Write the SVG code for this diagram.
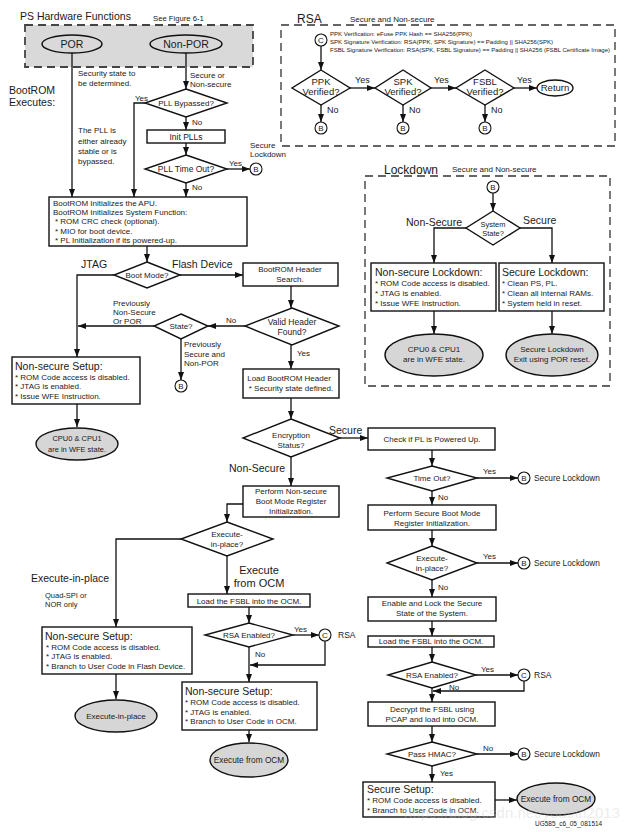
<svg xmlns="http://www.w3.org/2000/svg" width="630" height="832" viewBox="0 0 630 832">
<defs>
<marker id="ah" viewBox="0 0 8 6" refX="8" refY="3" markerWidth="8" markerHeight="6" markerUnits="userSpaceOnUse" orient="auto"><path d="M0,0 L8,3 L0,6 z" fill="#111"/></marker>
<style>
text{font-family:"Liberation Sans",Arial,sans-serif;fill:#1a1a1a;font-size:8px}
.m{text-anchor:middle}
.s10{font-size:10.5px}
.s12{font-size:12px}
.s9{font-size:9.5px}
.box{fill:#fff;stroke:#111;stroke-width:1.4}
.gel{fill:#d6d6d6;stroke:#111;stroke-width:1.4}
.cir{fill:#fff;stroke:#111;stroke-width:1.1}
.dash{fill:none;stroke:#333;stroke-width:1.3;stroke-dasharray:8 5}
.ln{fill:none;stroke:#111;stroke-width:1.3}
.ar{marker-end:url(#ah)}
</style>
</defs>
<rect width="630" height="832" fill="#fff"/>

<!-- Region frames -->
<g id="ps-hw">
<text x="20" y="20" class="s10">PS Hardware Functions</text>
<text x="153" y="21" style="font-size:7.7px">See Figure 6-1</text>
<rect x="25" y="25" width="228" height="42" fill="#d9d9d9" stroke="#444" stroke-width="1.8" stroke-dasharray="8 5"/>
</g>
<g id="rsa-frame">
<text x="297" y="23" class="s12">RSA</text>
<text x="350" y="22">Secure and Non-secure</text>
<rect x="281" y="25" width="334" height="121" class="dash"/>
<text x="330" y="36" style="font-size:5.6px" textLength="142" lengthAdjust="spacingAndGlyphs">PPK Verification: eFuse PPK Hash == SHA256(PPK)</text>
<text x="330" y="44" style="font-size:5.6px" textLength="223" lengthAdjust="spacingAndGlyphs">SPK Signature Verification: RSA(PPK, SPK Signature) == Padding || SHA256(SPK)</text>
<text x="330" y="52" style="font-size:5.6px" textLength="280" lengthAdjust="spacingAndGlyphs">FSBL Signature Verification: RSA(SPK, FSBL Signature) == Padding || SHA256 (FSBL Certificate Image)</text>
</g>
<g id="lockdown-frame">
<text x="384" y="174" class="s12">Lockdown</text>
<text x="452" y="172">Secure and Non-secure</text>
<rect x="365" y="176" width="245" height="210" class="dash"/>
</g>

<!-- Free labels -->
<g id="labels">
<text x="78" y="76">Security state to</text>
<text x="78" y="86">be determined.</text>
<text x="9" y="94" class="s10">BootROM</text>
<text x="9" y="106" class="s10">Executes:</text>
<text x="78" y="133">The PLL is</text>
<text x="78" y="144">either already</text>
<text x="78" y="154">stable or is</text>
<text x="78" y="164">bypassed.</text>
<text x="190" y="78">Secure or</text>
<text x="190" y="87">Non-secure</text>
<text x="135" y="101">Yes</text>
<text x="192" y="125">No</text>
<text x="229" y="166">Yes</text>
<text x="250" y="148">Secure</text>
<text x="250" y="157">Lockdown</text>
<text x="192" y="190">No</text>
<text x="81" y="268" class="s10">JTAG</text>
<text x="172" y="268" class="s10">Flash Device</text>
<text x="226" y="323">No</text>
<text x="113" y="306">Previously</text>
<text x="113" y="315">Non-Secure</text>
<text x="113" y="324">Or POR</text>
<text x="184" y="347">Previously</text>
<text x="184" y="357">Secure and</text>
<text x="184" y="366">Non-POR</text>
<text x="297" y="356">Yes</text>
<text x="329" y="434" class="s10">Secure</text>
<text x="229" y="472" class="s10">Non-Secure</text>
<text x="259" y="574" class="s10 m" style="font-size:11px">Execute</text>
<text x="259" y="587" class="s10 m" style="font-size:11px">from OCM</text>
<text x="31" y="582" class="s10">Execute-in-place</text>
<text x="45" y="598" style="font-size:7.5px">Quad-SPI or</text>
<text x="45" y="607" style="font-size:7.5px">NOR only</text>
<text x="294" y="632">Yes</text>
<text x="338" y="638" style="font-size:8.5px">RSA</text>
<text x="255" y="657">No</text>
<text x="483" y="474">Yes</text>
<text x="534" y="481" style="font-size:8.3px">Secure Lockdown</text>
<text x="438" y="500">No</text>
<text x="483" y="559">Yes</text>
<text x="534" y="566" style="font-size:8.3px">Secure Lockdown</text>
<text x="438" y="590">No</text>
<text x="481" y="672">Yes</text>
<text x="534" y="678" style="font-size:8.5px">RSA</text>
<text x="449" y="690">No</text>
<text x="483" y="751">No</text>
<text x="534" y="757" style="font-size:8.3px">Secure Lockdown</text>
<text x="440" y="776">Yes</text>
<text x="355" y="83" style="font-size:9px">Yes</text>
<text x="434" y="83" style="font-size:9px">Yes</text>
<text x="517" y="83" style="font-size:9px">Yes</text>
<text x="327" y="113" style="font-size:9px">No</text>
<text x="409" y="113" style="font-size:9px">No</text>
<text x="491" y="113" style="font-size:9px">No</text>
<text x="406" y="226" class="s10">Non-Secure</text>
<text x="523" y="224" class="s10">Secure</text>
<text x="535" y="826" style="font-size:6.5px">UG585_c6_05_081514</text>
</g>

<!-- Connectors -->
<g id="connectors">
<path class="ln ar" d="M72,53 V197"/>
<path class="ln ar" d="M186,53 V89"/>
<path class="ln ar" d="M145,103 H134 V197"/>
<path class="ln ar" d="M186,117 V130"/>
<path class="ln ar" d="M186,143 V155"/>
<path class="ln ar" d="M227,169 H250"/>
<path class="ln ar" d="M186,183 V197"/>
<path class="ln ar" d="M147,246 V262"/>
<path class="ln ar" d="M114,275 H77 V357"/>
<path class="ln ar" d="M180,275 H243"/>
<path class="ln ar" d="M291,286 V308"/>
<path class="ln ar" d="M245,326 H208"/>
<path class="ln ar" d="M154,326 H78"/>
<path class="ln ar" d="M181,339 V380"/>
<path class="ln ar" d="M291,345 V369"/>
<path class="ln ar" d="M77,404 V427"/>
<path class="ln ar" d="M291,398 V419"/>
<path class="ln ar" d="M340,438 H368"/>
<path class="ln ar" d="M291,457 V486"/>
<path class="ln ar" d="M243,504 H227 V522"/>
<path class="ln ar" d="M181,539 H116 V627"/>
<path class="ln ar" d="M227,556 V594"/>
<path class="ln ar" d="M249,607 V623"/>
<path class="ln ar" d="M293,635 H319"/>
<path class="ln ar" d="M325,641 V665 H250"/>
<path class="ln ar" d="M249,647 V682"/>
<path class="ln ar" d="M249,730 V742"/>
<path class="ln ar" d="M116,674 V699"/>
<path class="ln ar" d="M432,450 V466"/>
<path class="ln ar" d="M477,478 H518"/>
<path class="ln ar" d="M432,491 V505"/>
<path class="ln ar" d="M432,530 V546"/>
<path class="ln ar" d="M477,563 H518"/>
<path class="ln ar" d="M432,580 V597"/>
<path class="ln ar" d="M432,621 V636"/>
<path class="ln ar" d="M432,647 V662"/>
<path class="ln ar" d="M476,675 H518"/>
<path class="ln ar" d="M524,681 V691 H433"/>
<path class="ln ar" d="M432,688 V702"/>
<path class="ln ar" d="M432,726 V742"/>
<path class="ln ar" d="M477,754 H518"/>
<path class="ln ar" d="M432,766 V782"/>
<path class="ln ar" d="M495,800 H517"/>
<path class="ln ar" d="M321,46 V70"/>
<path class="ln ar" d="M350,88 H375"/>
<path class="ln ar" d="M431,88 H456"/>
<path class="ln ar" d="M514,88 H537"/>
<path class="ln ar" d="M321,105 V122"/>
<path class="ln ar" d="M403,105 V122"/>
<path class="ln ar" d="M485,105 V122"/>
<path class="ln ar" d="M493,193 V211"/>
<path class="ln ar" d="M466,228 H434 V263"/>
<path class="ln ar" d="M520,228 H552 V263"/>
<path class="ln ar" d="M434,311 V334"/>
<path class="ln ar" d="M552,311 V334"/>
</g>

<!-- Nodes: left / middle column -->
<g id="por"><ellipse cx="72" cy="44" rx="30" ry="9" fill="#d9d9d9" stroke="#111" stroke-width="1.5"/><text x="72" y="48" class="m s10">POR</text></g>
<g id="nonpor"><ellipse cx="186" cy="44" rx="36" ry="9" fill="#d9d9d9" stroke="#111" stroke-width="1.5"/><text x="186" y="48" class="m s10">Non-POR</text></g>
<g id="pll-bypassed"><path class="box" d="M186,89 L227,103 L186,117 L145,103 z"/><text x="186" y="106" class="m">PLL Bypassed?</text></g>
<g id="init-plls"><rect class="box" x="147" y="130" width="78" height="13"/><text x="186" y="140" class="m" style="font-size:8.5px">Init PLLs</text></g>
<g id="pll-timeout"><path class="box" d="M186,155 L227,169 L186,183 L145,169 z"/><text x="186" y="172" class="m" style="font-size:8.5px">PLL Time Out?</text></g>
<g id="b1"><circle class="cir" cx="256" cy="169" r="6"/><text x="256" y="172" class="m">B</text></g>
<g id="bootrom-init"><rect class="box" x="49" y="197" width="198" height="49"/>
<text x="53" y="206">BootROM Initializes the APU.</text>
<text x="53" y="215">BootROM Initializes System Function:</text>
<text x="55" y="224">* ROM CRC check (optional).</text>
<text x="55" y="234">* MIO for boot device.</text>
<text x="55" y="243">* PL Initialization if its powered-up.</text></g>
<g id="boot-mode"><path class="box" d="M147,262 L180,275 L147,288 L114,275 z"/><text x="147" y="278" class="m">Boot Mode?</text></g>
<g id="header-search"><rect class="box" x="243" y="263" width="95" height="23"/><text x="290" y="272" class="m">BootROM Header</text><text x="290" y="282" class="m">Search.</text></g>
<g id="valid-header"><path class="box" d="M292,308 L339,326 L292,345 L245,326 z"/><text x="292" y="325" class="m" style="font-size:8.5px">Valid Header</text><text x="292" y="335" class="m" style="font-size:8.5px">Found?</text></g>
<g id="state"><path class="box" d="M181,314 L208,326 L181,339 L154,326 z"/><text x="181" y="329" class="m">State?</text></g>
<g id="b2"><circle class="cir" cx="181" cy="386" r="6"/><text x="181" y="389" class="m">B</text></g>
<g id="load-header"><rect class="box" x="243" y="369" width="96" height="29"/><text x="289" y="381" class="m">Load BootROM Header</text><text x="291" y="391" class="m">* Security state defined.</text></g>
<g id="ns-setup-jtag"><rect class="box" x="12" y="357" width="128" height="47"/>
<text x="15" y="370" class="s10">Non-secure Setup:</text>
<text x="15" y="380">* ROM Code access is disabled.</text>
<text x="15" y="389">* JTAG is enabled.</text>
<text x="15" y="399">* Issue WFE Instruction.</text></g>
<g id="cpu-wfe-1"><ellipse class="gel" cx="77" cy="444" rx="41" ry="16"/><text x="77" y="441" class="m" style="font-size:7.5px">CPU0 &amp; CPU1</text><text x="77" y="452" class="m" style="font-size:7.5px">are in WFE state.</text></g>
<g id="encryption"><path class="box" d="M291,419 L340,438 L291,457 L243,438 z"/><text x="291" y="438" class="m">Encryption</text><text x="291" y="448" class="m">Status?</text></g>
<g id="perform-ns"><rect class="box" x="243" y="486" width="96" height="31"/><text x="291" y="494" class="m">Perform Non-secure</text><text x="291" y="504" class="m">Boot Mode Register</text><text x="291" y="514" class="m">Initialization.</text></g>
<g id="xip-ns"><path class="box" d="M227,522 L273,539 L227,556 L181,539 z"/><text x="227" y="537" class="m">Execute-</text><text x="227" y="547" class="m">in-place?</text></g>
<g id="load-fsbl-ns"><rect class="box" x="188" y="594" width="122" height="13"/><text x="249" y="604" class="m">Load the FSBL into the OCM.</text></g>
<g id="rsa-ns"><path class="box" d="M249,623 L293,635 L249,647 L205,635 z"/><text x="249" y="638" class="m">RSA Enabled?</text></g>
<g id="c1"><circle class="cir" cx="325" cy="635" r="6"/><text x="325" y="638" class="m">C</text></g>
<g id="ns-setup-flash"><rect class="box" x="42" y="627" width="150" height="47"/>
<text x="45" y="640" class="s10">Non-secure Setup:</text>
<text x="46" y="650">* ROM Code access is disabled.</text>
<text x="46" y="659">* JTAG is enabled.</text>
<text x="46" y="669">* Branch to User Code in Flash Device.</text></g>
<g id="xip-end"><ellipse class="gel" cx="116" cy="716" rx="41" ry="16"/><text x="116" y="719" class="m">Execute-in-place</text></g>
<g id="ns-setup-ocm"><rect class="box" x="182" y="682" width="135" height="48"/>
<text x="185" y="695" class="s10">Non-secure Setup:</text>
<text x="185" y="705">* ROM Code access is disabled.</text>
<text x="185" y="715">* JTAG is enabled.</text>
<text x="185" y="724">* Branch to User Code in OCM.</text></g>
<g id="ocm-end-ns"><ellipse class="gel" cx="249" cy="760" rx="39" ry="17"/><text x="249" y="763" class="m" style="font-size:8.3px">Execute from OCM</text></g>

<!-- Nodes: secure column -->
<g id="check-pl"><rect class="box" x="368" y="428" width="127" height="22"/><text x="432" y="442" class="m">Check if PL is Powered Up.</text></g>
<g id="timeout"><path class="box" d="M432,466 L477,478 L432,491 L387,478 z"/><text x="432" y="481" class="m">Time Out?</text></g>
<g id="b3"><circle class="cir" cx="524" cy="478" r="6"/><text x="524" y="481" class="m">B</text></g>
<g id="perform-s"><rect class="box" x="368" y="505" width="128" height="25"/><text x="432" y="516" class="m">Perform Secure Boot Mode</text><text x="432" y="526" class="m">Register Initialization.</text></g>
<g id="xip-s"><path class="box" d="M432,546 L477,563 L432,580 L387,563 z"/><text x="432" y="561" class="m">Execute-</text><text x="432" y="571" class="m">in-place?</text></g>
<g id="b4"><circle class="cir" cx="524" cy="563" r="6"/><text x="524" y="566" class="m">B</text></g>
<g id="enable-lock"><rect class="box" x="368" y="597" width="128" height="24"/><text x="432" y="606" class="m">Enable and Lock the Secure</text><text x="432" y="616" class="m">State of the System.</text></g>
<g id="load-fsbl-s"><rect class="box" x="368" y="636" width="126" height="11"/><text x="431" y="644" class="m">Load the FSBL into the OCM.</text></g>
<g id="rsa-s"><path class="box" d="M432,662 L476,675 L432,688 L388,675 z"/><text x="432" y="678" class="m">RSA Enabled?</text></g>
<g id="c2"><circle class="cir" cx="524" cy="675" r="6"/><text x="524" y="678" class="m">C</text></g>
<g id="decrypt"><rect class="box" x="368" y="702" width="127" height="24"/><text x="432" y="712" class="m">Decrypt the FSBL using</text><text x="432" y="722" class="m">PCAP and load into OCM.</text></g>
<g id="hmac"><path class="box" d="M432,742 L477,754 L432,766 L387,754 z"/><text x="432" y="757" class="m">Pass HMAC?</text></g>
<g id="b5"><circle class="cir" cx="524" cy="754" r="6"/><text x="524" y="757" class="m">B</text></g>
<g id="secure-setup"><rect class="box" x="363" y="782" width="132" height="35"/>
<text x="367" y="793" class="s10">Secure Setup:</text>
<text x="367" y="803">* ROM Code access is disabled.</text>
<text x="367" y="813">* Branch to User Code in OCM.</text></g>
<g id="ocm-end-s"><ellipse class="gel" cx="556" cy="799" rx="39" ry="16"/><text x="556" y="802" class="m" style="font-size:8.3px">Execute from OCM</text></g>

<!-- Nodes: RSA -->
<g id="c-rsa"><circle class="cir" cx="321" cy="40" r="6"/><text x="321" y="43" class="m">C</text></g>
<g id="ppk"><path class="box" d="M321,70 L350,88 L321,105 L292,88 z"/><text x="321" y="85" class="m s9">PPK</text><text x="321" y="95" class="m s9">Verified?</text></g>
<g id="spk"><path class="box" d="M403,70 L431,88 L403,105 L375,88 z"/><text x="403" y="85" class="m s9">SPK</text><text x="403" y="95" class="m s9">Verified?</text></g>
<g id="fsbl"><path class="box" d="M485,70 L514,88 L485,105 L456,88 z"/><text x="485" y="85" class="m s9">FSBL</text><text x="485" y="95" class="m s9">Verified?</text></g>
<g id="return"><ellipse cx="555" cy="88" rx="18" ry="8" fill="#fff" stroke="#111" stroke-width="1.4"/><text x="555" y="91" class="m s9">Return</text></g>
<g id="b-ppk"><circle class="cir" cx="321" cy="128" r="6"/><text x="321" y="131" class="m">B</text></g>
<g id="b-spk"><circle class="cir" cx="403" cy="128" r="6"/><text x="403" y="131" class="m">B</text></g>
<g id="b-fsbl"><circle class="cir" cx="485" cy="128" r="6"/><text x="485" y="131" class="m">B</text></g>

<!-- Nodes: Lockdown -->
<g id="b-lock"><circle class="cir" cx="493" cy="187" r="6"/><text x="493" y="190" class="m">B</text></g>
<g id="system-state"><path class="box" d="M493,211 L520,228 L493,245 L466,228 z"/><text x="493" y="227" class="m" style="font-size:7.5px">System</text><text x="493" y="236" class="m" style="font-size:7.5px">State?</text></g>
<g id="ns-lockdown"><rect class="box" x="371" y="263" width="125" height="48"/>
<text x="375" y="276" class="s10">Non-secure Lockdown:</text>
<text x="375" y="286">* ROM Code access is disabled.</text>
<text x="375" y="296">* JTAG is enabled.</text>
<text x="375" y="306">* Issue WFE Instruction.</text></g>
<g id="s-lockdown"><rect class="box" x="499" y="263" width="105" height="48"/>
<text x="502" y="276" class="s10">Secure Lockdown:</text>
<text x="502" y="286">* Clean PS, PL.</text>
<text x="502" y="296">* Clean all internal RAMs.</text>
<text x="502" y="306">* System held in reset.</text></g>
<g id="cpu-wfe-2"><ellipse class="gel" cx="434" cy="355" rx="49" ry="21"/><text x="434" y="352" class="m">CPU0 &amp; CPU1</text><text x="434" y="362" class="m">are in WFE state.</text></g>
<g id="s-lock-end"><ellipse class="gel" cx="552" cy="355" rx="46" ry="21"/><text x="552" y="352" class="m">Secure Lockdown</text><text x="552" y="362" class="m">Exit using POR reset.</text></g>

<text x="620" y="818" text-anchor="end" style="font-size:15px;fill:#c8c8c8;fill-opacity:0.35">https://blog.csdn.net/youbin2013</text>
</svg>
